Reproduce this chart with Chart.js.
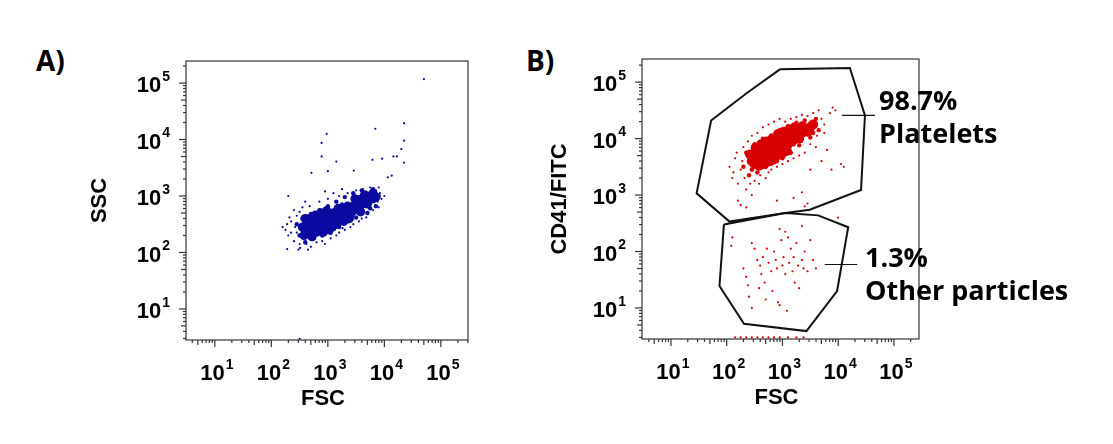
<!DOCTYPE html>
<html><head><meta charset="utf-8">
<script src="https://cdn.jsdelivr.net/npm/chart.js@4/dist/chart.umd.min.js"></script>
<style>
body{margin:0;background:#fff;width:1113px;height:444px;position:relative;overflow:hidden;font-family:"Liberation Sans",Arial,sans-serif}
.box{position:absolute;top:40px;width:420px;height:380px}
.lbl{position:absolute;font-weight:bold;color:#000;white-space:nowrap}
.cal{font-family:"Open Sans","Liberation Sans",sans-serif;font-weight:bold;font-size:27px;line-height:33px}
</style></head><body>
<div class="lbl cal" style="left:36px;top:44px;font-size:28px">A)</div>
<div class="lbl cal" style="left:526px;top:44px;font-size:28px">B)</div>
<div class="box" style="left:60px"><canvas id="a"></canvas></div>
<div class="box" style="left:520px"><canvas id="b"></canvas></div>
<div class="lbl cal" style="left:879px;top:83px">98.7%<br>Platelets</div>
<div class="lbl cal" style="left:865px;top:240px">1.3%<br>Other particles</div>
<script>
// all values are log10 of the measured intensity
const tickValues=[1,2,3,4,5];
const tickBase='10';
const tickExponents=['1','2','3','4','5'];
const coreA=[2.6,2.38,2.65,2.45,2.7,2.35,2.7,2.52,2.75,2.42,2.75,2.58,2.8,2.48,2.8,2.36,2.85,2.55,2.85,2.44,2.9,2.5,2.9,2.62,2.95,2.42,2.95,2.56,3.0,2.6,3.0,2.48,3.05,2.53,3.05,2.66,3.1,2.58,3.1,2.7,3.15,2.62,3.15,2.5,3.2,2.68,3.2,2.58,3.25,2.72,3.25,2.63,3.3,2.66,3.3,2.78,3.35,2.72,3.35,2.82,3.4,2.76,3.4,2.68,3.45,2.82,3.45,2.74,3.5,2.86,3.5,2.78,3.55,2.9,3.55,2.8,3.6,2.86,3.6,2.95,3.65,2.9,3.7,2.96,3.7,2.86,3.75,3.0,3.8,2.95,2.68,2.6,2.62,2.5,2.78,2.66,2.88,2.7,2.98,2.74,3.08,2.45,3.18,2.78,3.28,2.55,3.38,2.6,3.48,2.95,3.58,2.72,2.58,2.3,2.72,2.28,2.92,2.36,3.02,2.4,2.55,2.45,2.6,2.6,3.65,3.02,3.8,3.05,3.85,2.98];
const midA=[2.55,2.6,2.6,2.18,2.7,2.68,2.75,2.25,2.85,2.75,2.9,2.3,3.0,2.82,3.05,2.35,3.15,2.9,3.2,2.45,3.3,2.98,3.35,2.55,3.45,3.05,3.5,2.62,3.6,3.1,3.7,2.7,3.8,3.12,3.85,2.82,2.5,2.3,2.45,2.5,3.9,3.0,2.65,2.32,2.95,2.68,3.25,2.85,3.55,2.98,3.75,2.78];
const haloA=[2.25,2.4,2.3,2.3,2.35,2.55,2.4,2.2,2.42,2.45,2.45,2.65,2.5,2.15,2.5,2.72,2.55,2.25,2.55,2.8,2.6,2.9,2.62,2.15,2.68,2.82,2.7,2.1,2.8,2.18,2.85,2.9,2.9,2.2,3.0,2.95,3.05,2.25,3.1,3.05,3.15,2.3,3.2,3.0,3.3,2.4,3.35,3.05,3.45,2.5,3.5,3.1,3.55,2.55,3.62,3.12,3.68,2.62,3.75,3.15,3.8,2.75,3.85,3.1,3.88,2.9,3.92,3.05,3.95,2.95,3.9,3.15,2.35,2.35,2.28,2.5,2.45,2.35,2.2,2.45,2.32,2.62,2.4,2.75,2.48,2.05,2.65,2.05,2.95,2.15,3.2,2.35,3.4,2.45,3.6,2.6,3.9,2.8,4.0,3.0,3.25,3.12,2.95,3.08,
4.70,5.07,4.35,4.29,3.84,4.19,2.98,4.10,2.89,3.94,2.89,3.70,3.15,3.61,4.35,3.98,4.30,3.83,4.35,3.59,4.16,3.70,4.22,3.70,3.79,3.64,3.96,3.66,4.13,3.36,4.06,3.33,3.46,3.45,3.00,3.44,2.71,3.41,2.30,3.0,2.50,0.47,2.28,2.06,2.51,2.08,2.76,2.24,3.26,2.43];
const coreB=[2.45,3.6,2.5,3.7,2.5,3.55,2.55,3.66,2.55,3.78,2.6,3.6,2.6,3.72,2.65,3.68,2.65,3.8,2.7,3.74,2.7,3.62,2.75,3.82,2.75,3.7,2.8,3.76,2.8,3.88,2.85,3.8,2.85,3.7,2.9,3.85,2.9,3.94,2.95,3.88,2.95,3.78,3.0,3.92,3.0,4.0,3.05,3.95,3.05,3.85,3.1,4.0,3.1,3.9,3.15,4.04,3.2,3.98,3.2,4.08,3.25,4.05,3.3,4.12,3.3,4.0,3.35,4.1,3.4,4.16,3.45,4.12,2.58,3.52,2.68,3.55,2.78,3.6,2.88,3.68,2.98,3.72,3.08,3.78,2.52,3.84,2.62,3.9,2.72,3.95,2.82,4.0,2.92,4.08,3.02,4.12,3.12,4.16,3.22,4.2,3.36,4.22,3.5,4.2,3.55,4.25,2.42,3.72];
const midB=[2.35,3.75,2.4,3.35,2.5,3.9,2.55,3.4,2.65,4.0,2.7,3.5,2.8,4.05,2.85,3.58,2.95,4.15,3.0,3.65,3.1,4.22,3.15,3.75,3.25,4.28,3.3,3.88,3.4,4.32,3.5,4.02,3.6,4.35,3.65,4.15,2.3,3.5,2.45,3.45,3.55,4.1,2.6,3.85,2.9,3.6,3.2,3.9];
const haloB=[2.05,3.5,2.1,3.3,2.15,3.65,2.2,3.2,2.25,3.45,2.3,3.85,2.35,3.1,2.38,3.95,2.4,3.35,2.45,4.05,2.5,3.25,2.55,4.1,2.6,3.35,2.65,4.2,2.7,3.3,2.75,4.25,2.8,3.45,2.85,4.3,2.9,3.5,2.95,4.35,3.0,3.55,3.05,4.3,3.1,3.6,3.15,4.35,3.2,3.65,3.25,4.38,3.3,3.7,3.35,4.42,3.4,3.75,3.45,4.4,3.5,3.9,3.55,4.45,3.6,4.2,3.65,4.5,3.7,4.35,3.75,4.25,3.8,3.8,3.85,4.45,3.9,4.55,3.95,4.5,3.7,3.6,3.88,3.45,4.05,3.55,4.1,3.5,3.5,3.45,2.2,2.9,2.25,2.82,2.35,2.78,2.45,3.0,3.4,2.8,3.45,2.85,2.9,2.9,3.2,2.95,3.35,3.05,4.0,2.6,2.12,3.4,2.18,3.75,2.28,3.6,2.32,3.3,2.42,3.2,2.58,3.2,2.75,3.4,3.6,3.85,3.62,4.05,3.75,4.1];
const otherB=[2.08,2.1,2.1,2.25,2.3,1.7,2.35,1.55,2.38,1.4,2.4,1.2,2.45,1.0,2.45,2.15,2.55,1.85,2.6,1.75,2.62,1.6,2.65,1.9,2.68,1.45,2.72,2.05,2.75,1.8,2.8,1.65,2.82,1.3,2.85,2.0,2.88,1.85,2.9,1.7,2.92,1.1,2.95,1.05,2.98,2.2,3.0,1.75,3.02,1.9,3.05,2.35,3.05,1.6,3.1,2.25,3.12,1.8,3.15,2.05,3.18,1.65,3.2,1.9,3.22,1.45,3.25,2.15,3.28,1.75,3.3,1.35,3.35,1.85,3.38,1.7,3.4,2.0,3.45,1.65,3.5,2.2,3.55,1.85,3.6,1.7,2.58,1.35,2.7,1.15,3.08,0.95,2.5,2.05,2.95,2.4,3.35,2.45,
2.15,0.48,2.25,0.48,2.35,0.48,2.45,0.48,2.55,0.48,2.65,0.48,2.75,0.48,2.85,0.48,2.95,0.48,3.1,0.48,3.25,0.48,3.38,0.48];
const gatePlatelets=[2.96,5.23,4.21,5.25,4.48,4.41,4.41,3.09,3.49,2.74,3.05,2.68,2.05,2.53,1.46,3.03,1.72,4.32,2.35,4.80,2.96,5.23];
const gateOther=[1.95,2.48,3.05,2.68,3.64,2.64,4.18,2.43,3.98,1.30,3.43,0.59,2.31,0.72,1.87,1.39,1.95,2.48];
const leaderPlatelets=[4.07,4.41,4.66,4.41];
const leaderOther=[3.76,1.77,4.34,1.77];

const pts=a=>{const r=[];for(let i=0;i<a.length;i+=2)r.push({x:a[i],y:a[i+1]});return r;};
const F='"Liberation Sans",Arial';

function drawPow(ctx,cx,cy,i,align){
  ctx.font='bold 22px '+F;const wb=ctx.measureText(tickBase).width;
  ctx.font='bold 14px '+F;const we=ctx.measureText(tickExponents[i]).width;
  const w=wb+we+1;let x=align==='right'?cx-w:cx-w/2;
  ctx.textBaseline='middle';ctx.textAlign='left';
  ctx.font='bold 22px '+F;ctx.fillText(tickBase,x,cy);
  ctx.font='bold 14px '+F;ctx.fillText(tickExponents[i],x+wb+1,cy-9);
}
const frame={id:'frame',afterDraw(c){
  const ctx=c.ctx,a=c.chartArea,xs=c.scales.x,ys=c.scales.y,o=c.options.plugins.frame;
  ctx.save();ctx.strokeStyle='#333';ctx.lineWidth=1.2;
  ctx.strokeRect(a.left,a.top,a.right-a.left,a.bottom-a.top);
  for(let n=0;n<6;n++)for(let k=1;k<10;k++){
    const v=n+Math.log10(k),len=k===1?7:(k===5?5:3);
    if(v>=xs.min&&v<=xs.max){const p=xs.getPixelForValue(v);ctx.beginPath();ctx.moveTo(p,a.bottom);ctx.lineTo(p,a.bottom+len);ctx.stroke();}
    if(v>=ys.min&&v<=ys.max){const p=ys.getPixelForValue(v);ctx.beginPath();ctx.moveTo(a.left,p);ctx.lineTo(a.left-len,p);ctx.stroke();}
  }
  ctx.fillStyle='#000';
  tickValues.forEach((v,i)=>{
    drawPow(ctx,xs.getPixelForValue(v)+2,a.bottom+34,i,'center');
    drawPow(ctx,a.left-16,ys.getPixelForValue(v)+3,i,'right');
  });
  ctx.font='bold 22px '+F;ctx.textAlign='center';ctx.textBaseline='middle';
  ctx.fillText('FSC',(a.left+a.right)/2-4,a.bottom+59);
  ctx.translate(o.yTitleX,(a.top+a.bottom)/2);ctx.rotate(-Math.PI/2);
  ctx.fillText(o.yTitle,0,0);
  ctx.restore();}};

function make(id,xr,yr,yTitle,yTitleX,yW,xH,pad,datasets){
  new Chart(document.getElementById(id),{type:'scatter',data:{datasets},
  options:{responsive:false,animation:false,devicePixelRatio:1,
    layout:{padding:pad},
    plugins:{legend:{display:false},tooltip:{enabled:false},frame:{yTitle,yTitleX}},
    scales:{
      x:{type:'linear',min:xr[0],max:xr[1],grid:{display:false,drawTicks:false},border:{display:false},
        afterBuildTicks:s=>{s.ticks=tickValues.map(v=>({value:v}));},
        ticks:{display:false},afterFit:s=>{s.height=xH;}},
      y:{type:'linear',min:yr[0],max:yr[1],grid:{display:false,drawTicks:false},border:{display:false},
        afterBuildTicks:s=>{s.ticks=tickValues.map(v=>({value:v}));},
        ticks:{display:false},afterFit:s=>{s.width=yW;}}
    }},plugins:[frame]});
}
const c=document.getElementById('a');c.width=420;c.height=380;
const d=document.getElementById('b');d.width=420;d.height=380;
const blue='#0a0aa0',red='#d80000';
make('a',[0.49,5.48],[0.45,5.39],'SSC',40,126,80,{top:21,right:12,left:0,bottom:0},[
  {data:pts(coreA),pointRadius:4.6,pointBorderWidth:0,backgroundColor:blue},
  {data:pts(midA),pointRadius:2.2,pointBorderWidth:0,backgroundColor:blue},
  {data:pts(haloA),pointRadius:1.1,pointBorderWidth:0,backgroundColor:blue}]);
make('b',[0.48,5.45],[0.45,5.41],'CD41/FITC',40,122,81,{top:19,right:21,left:0,bottom:0},[
  {data:pts(coreB),pointRadius:5,pointBorderWidth:0,backgroundColor:red},
  {data:pts(midB),pointRadius:2.2,pointBorderWidth:0,backgroundColor:red},
  {data:pts(haloB),pointRadius:1.1,pointBorderWidth:0,backgroundColor:red},
  {data:pts(otherB),pointRadius:1.1,pointBorderWidth:0,backgroundColor:red},
  {data:pts(gatePlatelets),showLine:true,pointRadius:0,borderColor:'#111',borderWidth:2,fill:false},
  {data:pts(gateOther),showLine:true,pointRadius:0,borderColor:'#111',borderWidth:2,fill:false},
  {data:pts(leaderPlatelets),showLine:true,pointRadius:0,borderColor:'#111',borderWidth:1.2},
  {data:pts(leaderOther),showLine:true,pointRadius:0,borderColor:'#111',borderWidth:1.2}]);
</script></body></html>
